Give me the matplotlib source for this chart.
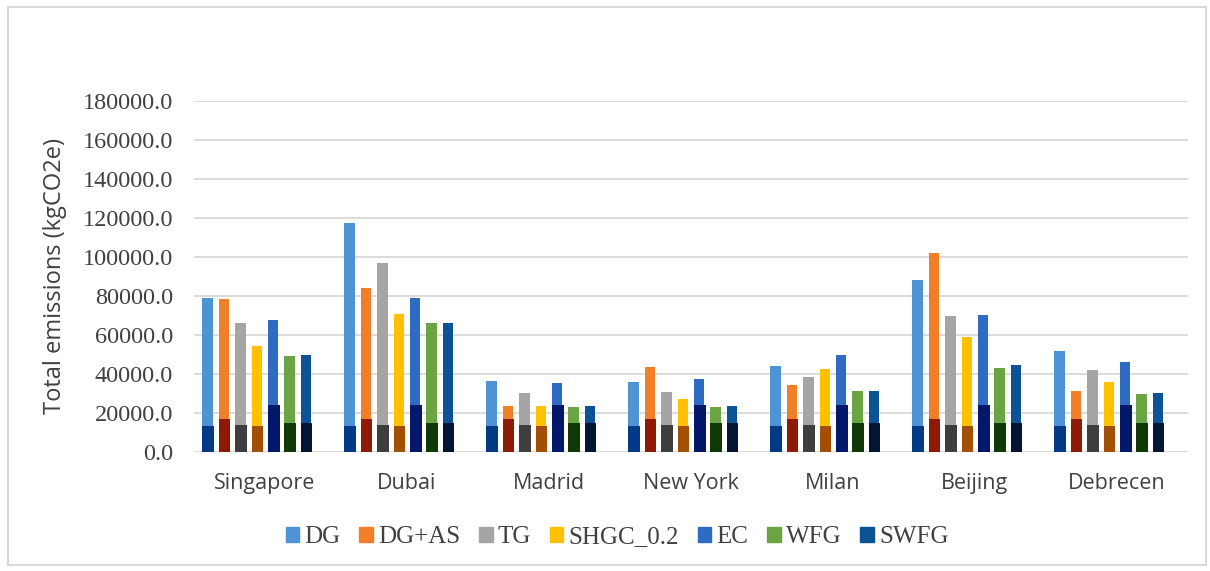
import matplotlib.pyplot as plt
import matplotlib.patches as mpatches
import numpy as np

# data
cities = ['Singapore', 'Dubai', 'Madrid', 'New York', 'Milan', 'Beijing', 'Debrecen']
series = ['DG', 'DG+AS', 'TG', 'SHGC_0.2', 'EC', 'WFG', 'SWFG']

total = {
    'DG':       [78800, 117600, 36600, 36100, 44100, 88000, 51800],
    'DG+AS':    [78300, 83900, 23600, 43400, 34400, 102200, 31400],
    'TG':       [66000, 96700, 30400, 30900, 38600, 69700, 41900],
    'SHGC_0.2': [54400, 70800, 23600, 27200, 42400, 59000, 36100],
    'EC':       [67700, 79100, 35500, 37600, 49600, 70300, 46000],
    'WFG':      [49200, 66000, 23100, 23100, 31400, 42900, 29700],
    'SWFG':     [49700, 66000, 23600, 23600, 31400, 44400, 30400],
}
# darker lower part (same for every city)
embodied = {
    'DG': 13400, 'DG+AS': 16800, 'TG': 14000, 'SHGC_0.2': 13400,
    'EC': 23900, 'WFG': 14700, 'SWFG': 14700,
}

top_colors = ['#4E94D5', '#F07F27', '#A5A5A5', '#FFC000', '#2E6BC3', '#6AA443', '#0B5394']
dark_colors = ['#033A86', '#8E1A04', '#3E3E3E', '#A24F02', '#03186B', '#0F3A08', '#021633']

yticks = np.arange(0, 180001, 20000)

fig = plt.figure(figsize=(12.1, 5.71), dpi=100)
ax = fig.add_axes([194 / 1210, 119 / 571, 994 / 1210, 351 / 571])

x = np.arange(len(cities))
step = 0.1156
w_top = 0.073
w_dark = 0.082
for i, s in enumerate(series):
    left = x - 3.5 * step - w_top / 2 + i * step
    ax.bar(left, total[s], width=w_top, align='edge', color=top_colors[i], label=s, zorder=2)
    ax.bar(left, [embodied[s]] * len(cities), width=w_dark, align='edge',
           color=dark_colors[i], zorder=3)

ax.set_xlim(-0.5, len(cities) - 0.5)
ax.set_ylim(0, 180000)
ax.set_yticks(yticks)
ax.set_yticklabels(['%.1f' % v for v in yticks], family='Liberation Serif', fontsize=17.5,
                   color='#404040')
ax.set_xticks(x)
ax.set_xticklabels(cities, family='Open Sans', fontsize=15.5, color='#404040')
ax.tick_params(length=0)
ax.tick_params(axis='y', pad=15)
ax.tick_params(axis='x', pad=15)
ax.grid(axis='y', color='#D9D9D9', linewidth=1.3, zorder=0)
ax.set_axisbelow(True)
for sp in ax.spines.values():
    sp.set_visible(False)

ax.set_ylabel('Total emissions (kgCO2e)', family='Open Sans', fontsize=17, color='#404040',
              labelpad=11)

handles = [mpatches.Patch(color=c, label=s) for c, s in zip(top_colors, series)]
fig.legend(handles=handles, loc='center', bbox_to_anchor=(617 / 1210, 1 - 537 / 571),
           ncol=7, frameon=False, prop={'family': 'Liberation Serif', 'size': 18},
           handlelength=0.55, handleheight=0.55, handletextpad=0.2, columnspacing=0.75,
           labelcolor='#404040')

fig.patches.append(mpatches.Rectangle((8 / 1210, 6 / 571), 1198 / 1210, 558 / 571,
                                      transform=fig.transFigure, fill=False,
                                      edgecolor='#D9D9D9', linewidth=1.5))

fig.savefig('out.png', dpi=100)
